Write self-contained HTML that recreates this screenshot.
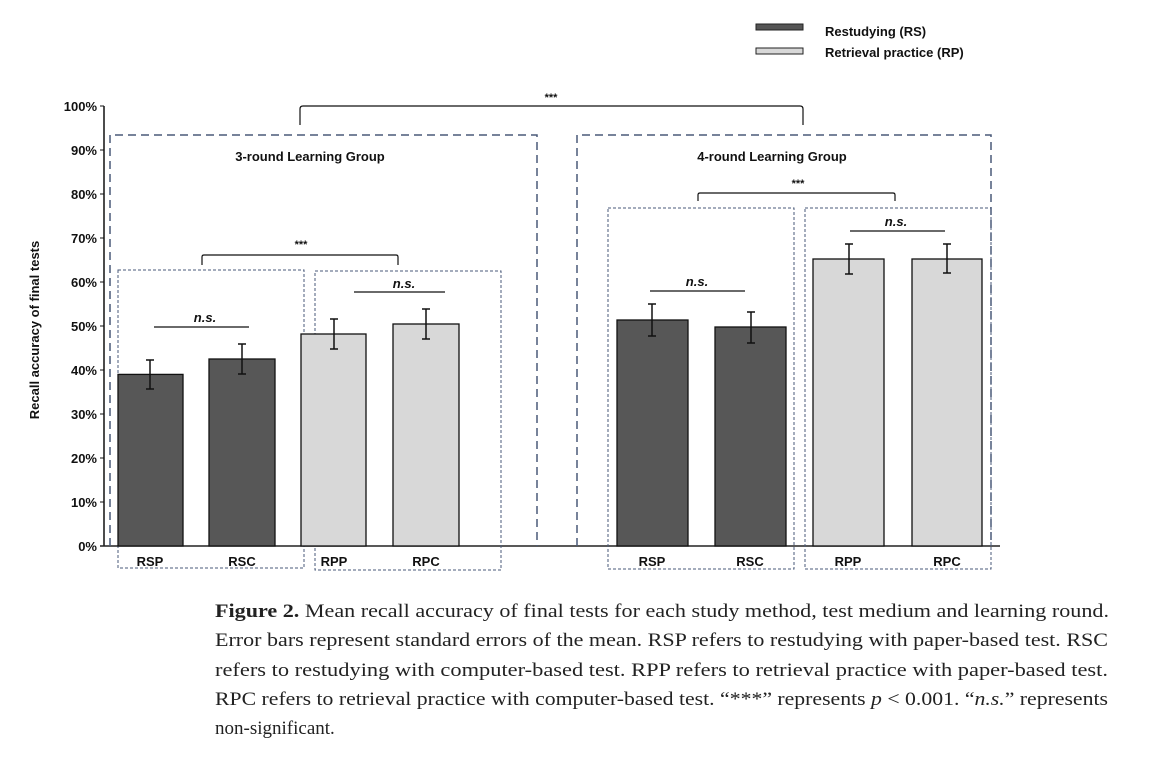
<!DOCTYPE html>
<html><head><meta charset="utf-8"><style>
html,body{margin:0;padding:0;background:#fff;}
svg{display:block;}
.a{font-family:"Liberation Sans",Arial,sans-serif;font-weight:bold;fill:#111;}
.c{font-family:"Liberation Serif","Times New Roman",serif;font-size:19px;fill:#222;}
</style></head><body>
<svg width="1170" height="759" viewBox="0 0 1170 759" xmlns="http://www.w3.org/2000/svg">
<!-- legend -->
<rect x="756" y="24" width="47" height="6" fill="#555" stroke="#222" stroke-width="1"/>
<rect x="756" y="48" width="47" height="6" fill="#d8d8d8" stroke="#222" stroke-width="1"/>
<text class="a" x="825" y="36" font-size="13">Restudying (RS)</text>
<text class="a" x="825" y="57" font-size="13">Retrieval practice (RP)</text>

<!-- y axis -->
<line x1="104" y1="106" x2="104" y2="546" stroke="#111" stroke-width="1.5"/>
<line x1="100" y1="546" x2="1000" y2="546" stroke="#222" stroke-width="1.5"/>
<g stroke="#111" stroke-width="1">
<line x1="100" y1="106" x2="104" y2="106"/><line x1="100" y1="150" x2="104" y2="150"/>
<line x1="100" y1="194" x2="104" y2="194"/><line x1="100" y1="238" x2="104" y2="238"/>
<line x1="100" y1="282" x2="104" y2="282"/><line x1="100" y1="326" x2="104" y2="326"/>
<line x1="100" y1="370" x2="104" y2="370"/><line x1="100" y1="414" x2="104" y2="414"/>
<line x1="100" y1="458" x2="104" y2="458"/><line x1="100" y1="502" x2="104" y2="502"/>
</g>
<g class="a" font-size="13" text-anchor="end">
<text x="97" y="111">100%</text><text x="97" y="155">90%</text><text x="97" y="199">80%</text>
<text x="97" y="243">70%</text><text x="97" y="287">60%</text><text x="97" y="331">50%</text>
<text x="97" y="375">40%</text><text x="97" y="419">30%</text><text x="97" y="463">20%</text>
<text x="97" y="507">10%</text><text x="97" y="551">0%</text>
</g>
<text class="a" font-size="13" transform="translate(39,330) rotate(-90)" text-anchor="middle">Recall accuracy of final tests</text>

<!-- big dashed boxes -->
<g fill="none" stroke="#4a5a78" stroke-width="1.5" stroke-dasharray="8,5">
<polyline points="110,546 110,135 537,135 537,546"/>
<polyline points="577,546 577,135 991,135 991,546"/>
</g>
<text class="a" x="310" y="161" font-size="13" text-anchor="middle">3-round Learning Group</text>
<text class="a" x="772" y="161" font-size="13" text-anchor="middle">4-round Learning Group</text>

<!-- small dotted boxes -->
<g fill="none" stroke="#4a5a78" stroke-width="1" stroke-dasharray="3,2">
<rect x="118" y="270" width="186" height="298"/>
<rect x="315" y="271" width="186" height="299"/>
<rect x="608" y="208" width="186" height="361"/>
<rect x="805" y="208" width="186" height="361"/>
</g>

<!-- bars -->
<g stroke="#111" stroke-width="1.3">
<rect x="118" y="374.4" width="65" height="171.6" fill="#575757"/>
<rect x="209" y="359" width="66" height="187" fill="#575757"/>
<rect x="301" y="334" width="65" height="212" fill="#d8d8d8"/>
<rect x="393" y="324" width="66" height="222" fill="#d8d8d8"/>
<rect x="617" y="320" width="71" height="226" fill="#575757"/>
<rect x="715" y="327" width="71" height="219" fill="#575757"/>
<rect x="813" y="259" width="71" height="287" fill="#d8d8d8"/>
<rect x="912" y="259" width="70" height="287" fill="#d8d8d8"/>
</g>
<!-- error bars -->
<g stroke="#111" stroke-width="1.5">
<path d="M150,360V389M146,360h8M146,389h8"/>
<path d="M242,344V374M238,344h8M238,374h8"/>
<path d="M334,319V349M330,319h8M330,349h8"/>
<path d="M426,309V339M422,309h8M422,339h8"/>
<path d="M652,304V336M648,304h8M648,336h8"/>
<path d="M751,312V343M747,312h8M747,343h8"/>
<path d="M849,244V274M845,244h8M845,274h8"/>
<path d="M947,244V273M943,244h8M943,273h8"/>
</g>

<!-- brackets -->
<g fill="none" stroke="#111" stroke-width="1.2">
<path d="M300,125V109Q300,106 303,106H800Q803,106 803,109V125"/>
<path d="M202,265V257Q202,255 204,255H396Q398,255 398,257V265"/>
<path d="M698,201V195Q698,193 700,193H893Q895,193 895,195V201"/>
<line x1="154" y1="327" x2="249" y2="327"/>
<line x1="354" y1="292" x2="445" y2="292"/>
<line x1="650" y1="291" x2="745" y2="291"/>
<line x1="850" y1="231" x2="945" y2="231"/>
</g>
<g class="a" font-size="11" text-anchor="middle" font-weight="normal">
<text x="551" y="101">***</text><text x="301" y="248">***</text><text x="798" y="187">***</text>
</g>
<g class="a" font-size="13" font-style="italic" text-anchor="middle">
<text x="205" y="322">n.s.</text><text x="404" y="288">n.s.</text>
<text x="697" y="286">n.s.</text><text x="896" y="226">n.s.</text>
</g>
<!-- x labels -->
<g class="a" font-size="13" text-anchor="middle">
<text x="150" y="566">RSP</text><text x="242" y="566">RSC</text>
<text x="334" y="566">RPP</text><text x="426" y="566">RPC</text>
<text x="652" y="566">RSP</text><text x="750" y="566">RSC</text>
<text x="848" y="566">RPP</text><text x="947" y="566">RPC</text>
</g>

<!-- caption -->
<text class="c" x="215" y="617" textLength="894" lengthAdjust="spacingAndGlyphs"><tspan font-weight="bold">Figure 2.</tspan> Mean recall accuracy of final tests for each study method, test medium and learning round.</text>
<text class="c" x="215" y="646" textLength="893" lengthAdjust="spacingAndGlyphs">Error bars represent standard errors of the mean. RSP refers to restudying with paper-based test. RSC</text>
<text class="c" x="215" y="676" textLength="893" lengthAdjust="spacingAndGlyphs">refers to restudying with computer-based test. RPP refers to retrieval practice with paper-based test.</text>
<text class="c" x="215" y="705" textLength="893" lengthAdjust="spacingAndGlyphs">RPC refers to retrieval practice with computer-based test. “***” represents <tspan font-style="italic">p</tspan> &lt; 0.001. “<tspan font-style="italic">n.s.</tspan>” represents</text>
<text class="c" x="215" y="734">non-significant.</text>
</svg>
</body></html>
